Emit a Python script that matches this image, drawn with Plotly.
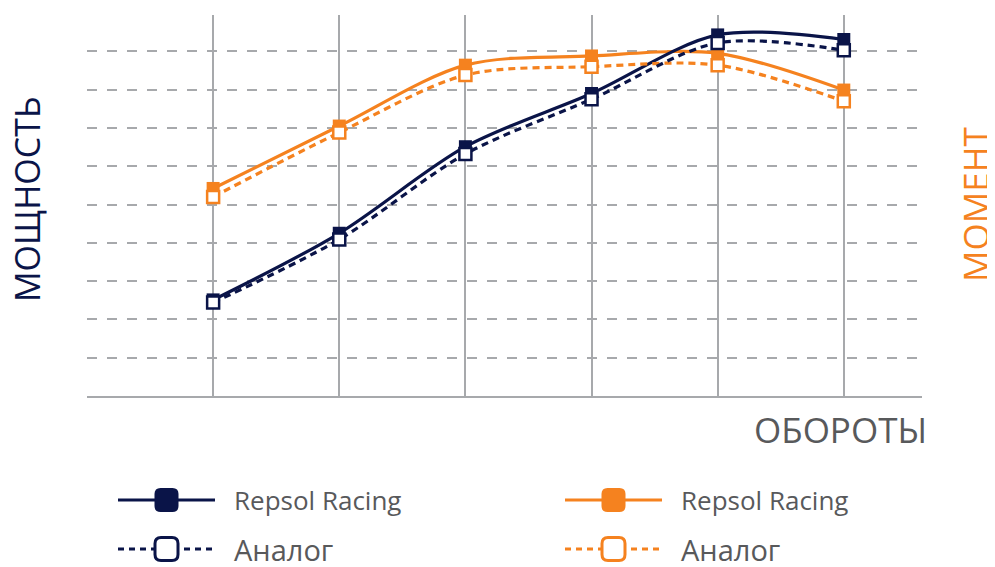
import plotly.graph_objects as go

rpm = [1, 2, 3, 4, 5, 6]
power_repsol = [2.51, 4.25, 6.51, 7.90, 9.43, 9.31]
power_analog = [2.44, 4.09, 6.32, 7.75, 9.22, 9.03]
torque_repsol = [5.42, 7.05, 8.64, 8.88, 8.95, 7.99]
torque_analog = [5.20, 6.88, 8.38, 8.60, 8.64, 7.70]

legend_labels = ["Repsol Racing", "Аналог"]

NAVY = "#0a1448"
ORANGE = "#f5821f"
GRID = "#a7a9ac"
TEXT = "#58595b"

# page body has an 8px margin; compensate so the screenshot matches
OFF = 8
VW, VH = 995, 567
W, H = VW - OFF, VH - OFF
L, R, T, B = 87 - OFF, 73, 15 - OFF, 171
PW, PH = W - L - R, H - T - B


def px(x):
    return (x - OFF - L) / PW


def py(y):
    return (H - B - (y - OFF)) / PH


fig = go.Figure()


def add(y, color, solid):
    fig.add_trace(go.Scatter(
        x=rpm, y=y, mode="lines+markers",
        line=dict(color=color, width=3.2, shape="spline", smoothing=0.9,
                  dash="solid" if solid else "7px,5px"),
        marker=dict(symbol="square", size=13 if solid else 12,
                    color=color if solid else "white",
                    line=dict(color=color, width=0 if solid else 2.5)),
        showlegend=False, cliponaxis=False,
    ))


add(torque_repsol, ORANGE, True)
add(power_repsol, NAVY, True)
add(torque_analog, ORANGE, False)
add(power_analog, NAVY, False)

shapes = []
annotations = []


def rounded_square(cx, cy, s, r):
    h = s / 2
    return (f"M {cx-h+r},{cy-h} L {cx+h-r},{cy-h} Q {cx+h},{cy-h} {cx+h},{cy-h+r} "
            f"L {cx+h},{cy+h-r} Q {cx+h},{cy+h} {cx+h-r},{cy+h} "
            f"L {cx-h+r},{cy+h} Q {cx-h},{cy+h} {cx-h},{cy+h-r} "
            f"L {cx-h},{cy-h+r} Q {cx-h},{cy-h} {cx-h+r},{cy-h} Z")


legend_cols = [(118, 215, NAVY), (565, 662, ORANGE)]
legend_rows = [500, 549]
for (x0, x1, color) in legend_cols:
    for i, yy in enumerate(legend_rows):
        solid = i == 0
        shapes.append(dict(type="line", xref="paper", yref="paper",
                           x0=px(x0), x1=px(x1), y0=py(yy), y1=py(yy),
                           line=dict(color=color, width=3,
                                     dash="solid" if solid else "6px,5px")))
        cx = (x0 + x1) / 2
        shapes.append(dict(type="path", xref="paper", yref="paper",
                           xsizemode="pixel", ysizemode="pixel",
                           xanchor=px(cx), yanchor=py(yy),
                           path=rounded_square(0, 0, 24 if solid else 23, 6),
                           fillcolor=color if solid else "white",
                           line=dict(color=color, width=0 if solid else 3)))
        annotations.append(dict(
            text=legend_labels[i], xref="paper", yref="paper",
            x=px(x1 + 17), y=py(yy), xanchor="left", yanchor="middle",
            showarrow=False,
            font=dict(family="Open Sans", size=26 if solid else 29, color=TEXT)))

annotations.append(dict(text="МОЩНОСТЬ", xref="paper", yref="paper",
                        x=px(27), y=py(200), textangle=-90, showarrow=False,
                        xanchor="center", yanchor="middle",
                        font=dict(family="Open Sans", size=34, color=NAVY)))
annotations.append(dict(text="МОМЕНТ", xref="paper", yref="paper",
                        x=px(975), y=py(204), textangle=-90, showarrow=False,
                        xanchor="center", yanchor="middle",
                        font=dict(family="Open Sans", size=35, color=ORANGE)))
annotations.append(dict(text="ОБОРОТЫ", xref="paper", yref="paper",
                        x=px(929), y=py(429), showarrow=False,
                        xanchor="right", yanchor="middle",
                        font=dict(family="Open Sans", size=35, color=TEXT)))

fig.update_layout(
    width=W, height=H,
    margin=dict(l=L, r=R, t=T, b=B, pad=0),
    paper_bgcolor="white", plot_bgcolor="white",
    shapes=shapes, annotations=annotations,
    xaxis=dict(range=[0, 6.62], tickvals=rpm, showticklabels=False,
               showgrid=True, gridcolor=GRID, gridwidth=2,
               zeroline=False, showline=True, linecolor=GRID, linewidth=2,
               ticks="", fixedrange=True),
    yaxis=dict(range=[0, 9.95], dtick=1, showticklabels=False,
               showgrid=True, gridcolor=GRID, gridwidth=2, griddash="10px,10px",
               zeroline=False, showline=False, ticks="", fixedrange=True),
)

fig.write_html("out.html")
